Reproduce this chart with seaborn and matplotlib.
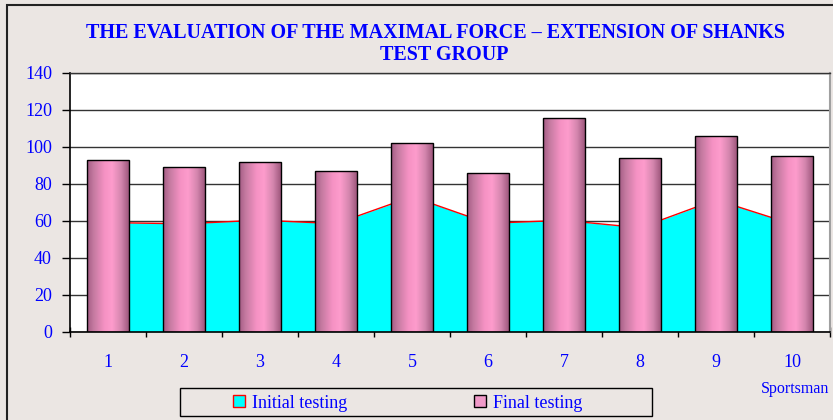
import numpy as np
import pandas as pd
import matplotlib
matplotlib.use('Agg')
import matplotlib.pyplot as plt
import seaborn as sns
from matplotlib.colors import LinearSegmentedColormap
from matplotlib.patches import Patch, Rectangle

# ============================
# Data
# ============================
sportsmen = ['1', '2', '3', '4', '5', '6', '7', '8', '9', '10']
initial_testing = [59.0, 58.3, 60.3, 58.4, 73.0, 58.6, 60.2, 56.2, 71.3, 58.2]
final_testing = [93.0, 89.2, 91.9, 87.0, 102.2, 85.6, 115.7, 93.7, 105.9, 95.0]
y_ticks = [0, 20, 40, 60, 80, 100, 120, 140]

title_line1 = 'THE EVALUATION OF THE MAXIMAL FORCE \u2013 EXTENSION OF SHANKS'
title_line2 = 'TEST GROUP'

df = pd.DataFrame({'Sportsman': sportsmen,
                   'Initial': initial_testing,
                   'Final': final_testing})

bg = '#ebe6e3'
blue = '#0000ff'

sns.set_theme(style='white')
plt.rcParams['font.family'] = ['Liberation Serif', 'DejaVu Serif']

fig = plt.figure(figsize=(8.33, 4.2), dpi=100, facecolor=bg)
ax = fig.add_axes([70 / 833, 1 - 331.7 / 420, 760 / 833, 259 / 420])
ax.set_facecolor('white')

# Initial testing: area with red outline
pos = np.arange(len(sportsmen))
ax.fill_between(pos, df['Initial'], 0, color='#00ffff', lw=0, zorder=1)
ax.plot(pos, df['Initial'], color='red', lw=1, zorder=1.5)

# Final testing: bars
sns.barplot(data=df, x='Sportsman', y='Final', color='#f898c8', width=0.54,
            edgecolor='black', linewidth=1, ax=ax, zorder=2)

# cylinder-like shading of the bars
cmap = LinearSegmentedColormap.from_list('cyl', [
    (0.0, '#a45c84'), (0.15, '#c47aa0'), (0.42, '#f692c4'),
    (0.6, '#fd9ccc'), (0.82, '#d486ae'), (1.0, '#a0587e')])
grad = np.linspace(0, 1, 64).reshape(1, -1)
for p in list(ax.patches):
    x0, y0 = p.get_x(), p.get_y()
    w, h = p.get_width(), p.get_height()
    im = ax.imshow(grad, cmap=cmap, extent=[x0, x0 + w, y0, y0 + h],
                   aspect='auto', zorder=2.1, interpolation='bilinear')
    im.set_clip_path(p)
    p.set_facecolor('none')
    p.set_zorder(2.2)

ax.set_xlim(-0.5, len(sportsmen) - 0.5)
ax.set_ylim(0, 140)
ax.set_yticks(y_ticks)
ax.set_xlabel('')
ax.set_ylabel('')

ax.yaxis.grid(True, color='#333333', lw=1)
ax.xaxis.grid(False)
ax.set_axisbelow(True)

ax.tick_params(axis='y', left=True, direction='out', length=6, width=1,
               color='black', pad=7, labelsize=13, labelcolor=blue)
ax.tick_params(axis='x', which='major', bottom=True, length=0, pad=16,
               labelsize=13, labelcolor=blue)
ax.set_xticks(np.arange(-0.5, len(sportsmen), 1), minor=True)
ax.tick_params(axis='x', which='minor', bottom=True, direction='inout',
               length=7, width=1, color='black')

ax.spines['left'].set_color('black')
ax.spines['bottom'].set_color('black')
ax.spines['left'].set_linewidth(1.2)
ax.spines['bottom'].set_linewidth(1.2)
ax.spines['top'].set_color('#333333')
ax.spines['top'].set_linewidth(1)
ax.spines['right'].set_color('#a0a0a0')
ax.spines['right'].set_linewidth(1.5)

# Title
fig.text(436 / 833, 1 - 33 / 420, title_line1, ha='center', va='center',
         fontsize=14.5, weight='bold', color=blue)
fig.text(444 / 833, 1 - 55 / 420, title_line2, ha='center', va='center',
         fontsize=14.5, weight='bold', color=blue)

# Axis caption
fig.text(795 / 833, 1 - 389 / 420, 'Sportsman', ha='center', va='center',
         fontsize=11.5, color=blue)

# Legend
handles = [Patch(facecolor='#00ffff', edgecolor='red', lw=1),
           Patch(facecolor='#f09ac8', edgecolor='black', lw=1)]
fig.legend(handles, ['Initial testing', 'Final testing'], ncol=2,
           loc='center', bbox_to_anchor=(408 / 833, 1 - 403 / 420),
           frameon=False, fontsize=13, labelcolor=blue, handlelength=0.66,
           handleheight=0.66, handletextpad=0.4, columnspacing=7.0)
fig.patches.append(Rectangle((180 / 833, 1 - 416 / 420), 472 / 833, 28 / 420,
                             transform=fig.transFigure, fill=False,
                             edgecolor='black', lw=1))

# outer frame
fig.patches.append(Rectangle((7 / 833, -0.2), 1.2, 1.2 - 5 / 420,
                             transform=fig.transFigure, fill=False,
                             edgecolor='#222222', lw=1.5))

fig.savefig('out.png', dpi=100, facecolor=bg)
